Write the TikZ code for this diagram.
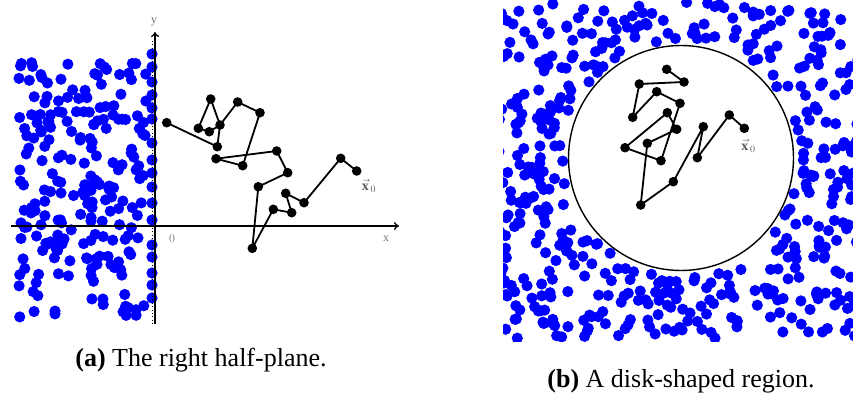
\documentclass[tikz,border=0pt]{standalone}
\usepackage{fontspec}
\setmainfont{Liberation Serif}
\usetikzlibrary{arrows.meta}
\begin{document}
\begin{tikzpicture}[x=1pt,y=-1pt,
  walk/.style={line width=1.8pt, line join=round},
  lab/.style={text=black!55, font=\fontsize{12}{14}\selectfont, inner sep=0pt},
  vlab/.style={text=black!65, font=\fontsize{14}{16}\selectfont, inner sep=0pt},
  captext/.style={font=\fontsize{26}{30}\selectfont, inner sep=0pt},
  axis/.style={line width=1.3pt, -{To[length=5pt,width=8pt]}}]
\useasboundingbox (0,0) rectangle (853,396);

% ---------- left panel: blue dots ----------
\pgfmathsetseed{11}
\foreach \i in {1,...,215}{
  \pgfmathsetmacro{\rx}{19+128*rnd}
  \pgfmathsetmacro{\ry}{62+256*rnd}
  \fill[blue] (\rx,\ry) circle (5.6pt);
}
\foreach \yy in {54,67,82,95,108,119,143,160,173,187,203,220,245,257,273,285,298}
  \fill[blue] (152,\yy) circle (5.6pt);

% ---------- axes ----------
\coordinate (xs) at (11,226);
\coordinate (xe) at (399,226);
\coordinate (ys) at (155,324);
\coordinate (ye) at (155,32);
\coordinate (yd1) at (152.4,324);
\coordinate (yd2) at (152.4,40);
\draw[axis] (xs) -- (xe);
\draw[line width=1.2pt, dash pattern=on 0.9pt off 2.5pt] (yd1) -- (yd2);
\draw[axis] (ys) -- (ye);
\node[lab] (ylab) at (154,22) {$\mathrm{y}$};
\node[lab] (xlab) at (386,239) {$\mathrm{x}$};
\node[lab] (olab) at (172,239) {$0$};
\node[vlab] (x0a) at (369,186) {$\vec{\mathbf{x}}_{\,0}$};

% ---------- left walk ----------
\coordinate (a1) at (356.7,171.0);
\coordinate (a2) at (340.7,158.3);
\coordinate (a3) at (304.0,202.7);
\coordinate (a4) at (285.7,193.3);
\coordinate (a5) at (291.7,212.7);
\coordinate (a6) at (273.3,209.3);
\coordinate (a7) at (252.3,248.3);
\coordinate (a8) at (258.3,186.7);
\coordinate (a9) at (287.7,172.7);
\coordinate (a10) at (276.7,151.0);
\coordinate (a11) at (216.0,158.7);
\coordinate (a12) at (242.7,165.7);
\coordinate (a13) at (260.0,112.7);
\coordinate (a14) at (237.7,102.0);
\coordinate (a15) at (220.0,125.0);
\coordinate (a16) at (209.3,131.7);
\coordinate (a17) at (198.3,128.3);
\coordinate (a18) at (210.7,99.0);
\coordinate (a19) at (217.3,146.7);
\coordinate (a20) at (166.7,122.7);
\draw[walk] (a1) -- (a2) -- (a3) -- (a4) -- (a5) -- (a6) -- (a7) -- (a8) -- (a9)
  -- (a10) -- (a11) -- (a12) -- (a13) -- (a14) -- (a15) -- (a16) -- (a17) -- (a18)
  -- (a15) -- (a19) -- (a20);
\foreach \n in {a1,a2,a3,a4,a5,a6,a7,a8,a9,a10,a11,a12,a13,a14,a15,a16,a17,a18,a19,a20}
  \fill (\n) circle (4.8pt);

% ---------- right panel: blue dots ----------
\begin{scope}
\clip (503,0) rectangle (853,341);
\pgfmathsetseed{31}
\foreach \i in {1,...,720}{
  \pgfmathsetmacro{\rx}{498+360*rnd}
  \pgfmathsetmacro{\ry}{2+337*rnd}
  \pgfmathsetmacro{\rdist}{veclen(\rx-681,\ry-158)}
  \ifdim\rdist pt>118pt \fill[blue] (\rx,\ry) circle (5.6pt);\fi
}
\end{scope}
\coordinate (cc) at (681,158);
\draw[line width=1.4pt] (cc) circle (112.5pt);

% ---------- right walk ----------
\coordinate (b1) at (744.3,128.3);
\coordinate (b2) at (729.3,115.0);
\coordinate (b3) at (697.3,157.7);
\coordinate (b4) at (703.3,126.7);
\coordinate (b5) at (673.3,181.7);
\coordinate (b6) at (640.7,205.0);
\coordinate (b7) at (647.3,143.3);
\coordinate (b8) at (676.7,129.3);
\coordinate (b9) at (667.3,112.7);
\coordinate (b10) at (625.0,147.7);
\coordinate (b11) at (661.0,160.7);
\coordinate (b12) at (680.0,103.3);
\coordinate (b13) at (656.7,91.7);
\coordinate (b14) at (632.7,117.3);
\coordinate (b15) at (639.3,84.0);
\coordinate (b16) at (684.0,82.0);
\coordinate (b17) at (666.7,69.3);
\draw[walk] (b1) -- (b2) -- (b3) -- (b4) -- (b5) -- (b6) -- (b7) -- (b8) -- (b9)
  -- (b10) -- (b11) -- (b12) -- (b13) -- (b14) -- (b15) -- (b16) -- (b17);
\foreach \n in {b1,b2,b3,b4,b5,b6,b7,b8,b9,b10,b11,b12,b13,b14,b15,b16,b17}
  \fill (\n) circle (4.8pt);
\node[vlab] (x0b) at (748.5,146) {$\vec{\mathbf{x}}_{\,0}$};

% ---------- captions ----------
\node[captext] (capa) at (201,360) {\textbf{(a)} The right half-plane.};
\node[captext] (capb) at (681,381) {\textbf{(b)} A disk-shaped region.};
\end{tikzpicture}
\end{document}
